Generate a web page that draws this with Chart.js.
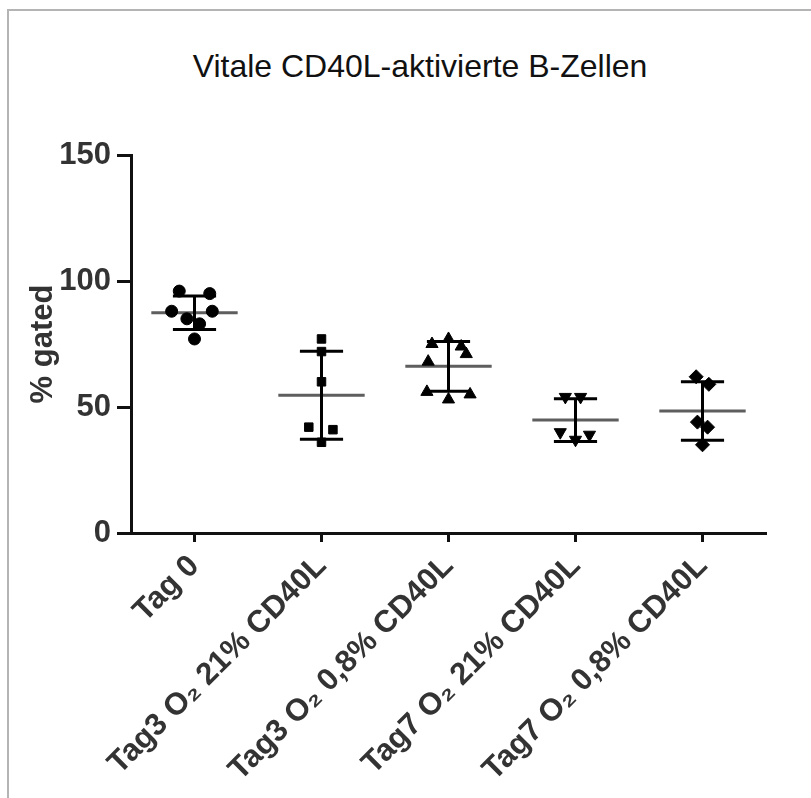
<!DOCTYPE html>
<html>
<head>
<meta charset="utf-8">
<script src="https://cdn.jsdelivr.net/npm/chart.js@4"></script>
<style>
  body { margin: 0; background: #fff; }
  #wrap { position: relative; width: 811px; height: 798px; overflow: hidden; }
  #frame { position: absolute; left: 7px; top: 9px; right: -10px; bottom: -10px; border-left: 2px solid #b4b4b4; border-top: 2px solid #b4b4b4; }
  #title { position: absolute; left: 0; width: 840px; top: 50px; text-align: center; font: 32px "Liberation Sans", Arial, sans-serif; line-height: 32px; color: #111; }
  canvas { position: absolute; left: 0; top: 0; }
</style>
</head>
<body>
<div id="wrap">
  <div id="frame"></div>
  <div id="title">Vitale CD40L-aktivierte B-Zellen</div>
  <canvas id="chart" width="811" height="798"></canvas>
</div>
<script>
const categories = ["Tag 0", "Tag3 O₂ 21% CD40L", "Tag3 O₂ 0,8% CD40L", "Tag7 O₂ 21% CD40L", "Tag7 O₂ 0,8% CD40L"];
const tag0 = [96, 95, 88, 88, 85, 83, 77];
const tag3o21 = [77, 72, 60, 42, 41, 36];
const tag3o08 = [77, 75, 74, 71, 68, 56, 55, 53];
const tag7o21 = [54, 54, 40, 39, 37];
const tag7o08 = [62, 59, 44, 42, 35];
const yTicks = [0, 50, 100, 150];

// horizontal spread of the dots inside each column (category units)
const spread = [
    [-0.12, 0.12, -0.18, 0.14, -0.06, 0.04, 0],
    [0, 0, 0, -0.1, 0.09, 0],
    [0, -0.13, 0.1, 0.14, -0.16, -0.17, 0.17, 0],
    [-0.08, 0.04, -0.12, 0.11, 0],
    [-0.05, 0.05, -0.04, 0.04, 0]
];

const groups = [tag0, tag3o21, tag3o08, tag7o21, tag7o08];
const markers = ["circle", "rect", "triangle", "triangle", "rectRot"];
const markerRot = [0, 0, 0, 180, 0];
const markerSize = [6, 6, 7, 7, 7];

const mean = a => a.reduce((s, v) => s + v, 0) / a.length;
const sd = a => {
    const m = mean(a);
    return Math.sqrt(a.reduce((s, v) => s + (v - m) ** 2, 0) / (a.length - 1));
};

// mean line and SD whiskers, split into segments with null gaps
const meanHalf = 0.34, capHalf = 0.17;
const meanSegs = [], sdSegs = [];
groups.forEach((g, i) => {
    const m = mean(g), s = sd(g);
    meanSegs.push({ x: i - meanHalf, y: m }, { x: i + meanHalf, y: m }, { x: i, y: null });
    sdSegs.push(
        { x: i, y: m - s }, { x: i, y: m + s }, { x: i, y: null },
        { x: i - capHalf, y: m + s }, { x: i + capHalf, y: m + s }, { x: i, y: null },
        { x: i - capHalf, y: m - s }, { x: i + capHalf, y: m - s }, { x: i, y: null }
    );
});

const pointSets = groups.map((g, i) => ({
    label: categories[i],
    data: g.map((v, j) => ({ x: i + spread[i][j], y: v })),
    pointStyle: markers[i],
    rotation: markerRot[i],
    pointRadius: markerSize[i],
    pointHoverRadius: markerSize[i],
    backgroundColor: "#000",
    borderColor: "#000",
    borderWidth: 1
}));

const tickFont = { family: "'Liberation Sans', Arial, sans-serif", size: 31, weight: "bold" };

new Chart(document.getElementById("chart"), {
    type: "scatter",
    data: {
        datasets: [
            ...pointSets,
            {
                label: "SD",
                data: sdSegs,
                showLine: true,
                spanGaps: false,
                borderColor: "#000",
                borderWidth: 3,
                pointRadius: 0
            },
            {
                label: "Mittelwert",
                data: meanSegs,
                showLine: true,
                spanGaps: false,
                borderColor: "#5e5e5e",
                borderWidth: 3,
                pointRadius: 0
            }
        ]
    },
    options: {
        responsive: false,
        animation: false,
        layout: { padding: { left: 0, right: 45, top: 155, bottom: 0 } },
        plugins: {
            legend: { display: false },
            tooltip: { enabled: false }
        },
        scales: {
            x: {
                type: "linear",
                min: -0.5,
                max: categories.length - 0.5,
                afterBuildTicks: axis => { axis.ticks = categories.map((_, i) => ({ value: i })); },
                afterFit: axis => { axis.height = 265; },
                ticks: {
                    callback: v => categories[v],
                    autoSkip: false,
                    minRotation: 45,
                    maxRotation: 45,
                    padding: 6,
                    color: "#333",
                    font: tickFont
                },
                grid: { drawOnChartArea: false, tickLength: 9, tickWidth: 3, tickColor: "#111" },
                border: { display: true, color: "#111", width: 3 }
            },
            y: {
                min: 0,
                max: 150,
                afterBuildTicks: axis => { axis.ticks = yTicks.map(v => ({ value: v })); },
                afterFit: axis => { axis.width = 131; },
                ticks: { padding: 6, color: "#333", font: tickFont },
                grid: { drawOnChartArea: false, tickLength: 14, tickWidth: 3, tickColor: "#111" },
                border: { display: true, color: "#111", width: 3 },
                title: {
                    display: true,
                    text: "% gated",
                    color: "#333",
                    font: { family: "'Liberation Sans', Arial, sans-serif", size: 31, weight: "bold" },
                    padding: { top: 25, bottom: 0 }
                }
            }
        }
    }
});
</script>
</body>
</html>
